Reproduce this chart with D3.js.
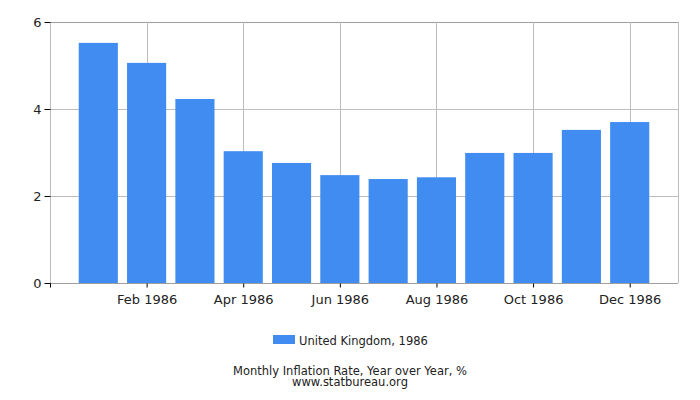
<!DOCTYPE html>
<html>
<head>
<style>
  body { margin: 0; background: #fff; font-family: "DejaVu Sans", sans-serif; }
  .grid line { stroke: #bdbdbd; stroke-width: 1px; }
</style>
</head>
<body>
<div id="chart"></div>
<script src="https://d3js.org/d3.v7.min.js"></script>
<script>
var months = ["Jan 1986", "Feb 1986", "Mar 1986", "Apr 1986", "May 1986", "Jun 1986",
              "Jul 1986", "Aug 1986", "Sep 1986", "Oct 1986", "Nov 1986", "Dec 1986"];
var values = [5.52, 5.06, 4.23, 3.03, 2.76, 2.48, 2.39, 2.43, 2.99, 2.99, 3.52, 3.70];
var yTicks = [0, 2, 4, 6];
var seriesName = "United Kingdom, 1986";
var title = "Monthly Inflation Rate, Year over Year, %";
var source = "www.statbureau.org";

var W = 700, H = 400;
var margin = { top: 22, left: 50, right: 22, bottom: 117 };
var width = W - margin.left - margin.right,
    height = H - margin.top - margin.bottom;

var svg = d3.select("#chart").append("svg")
    .attr("width", W)
    .attr("height", H);

var g = svg.append("g")
    .attr("transform", "translate(" + margin.left + "," + margin.top + ")");

// month slots: index 1..12, with an empty slot before Jan
var x = d3.scaleLinear().domain([0, 13]).range([0, width]);
var y = d3.scaleLinear().domain([0, 6]).range([height, 0]);
var step = x(1) - x(0);
var barW = step * 0.81;

// horizontal grid
g.append("g").attr("class", "grid")
  .selectAll("line").data(yTicks).enter().append("line")
    .attr("x1", 0).attr("x2", width)
    .attr("y1", function (d) { return Math.round(y(d)) + 0.5; })
    .attr("y2", function (d) { return Math.round(y(d)) + 0.5; })
    .style("stroke", function (d) { return d === 6 ? "#9e9e9e" : "#bdbdbd"; });

// vertical grid at every second month + edges
var xGrid = [0, 2, 4, 6, 8, 10, 12, 13];
g.append("g").attr("class", "grid")
  .selectAll("line").data(xGrid).enter().append("line")
    .attr("x1", function (d) { return Math.round(x(d)) + 0.5; })
    .attr("x2", function (d) { return Math.round(x(d)) + 0.5; })
    .attr("y1", 0).attr("y2", height);

// bars
g.selectAll("rect.bar").data(values).enter().append("rect")
    .attr("class", "bar")
    .attr("x", function (d, i) { return x(i + 1) - barW / 2; })
    .attr("width", barW)
    .attr("y", function (d) { return y(d); })
    .attr("height", function (d) { return height - y(d); })
    .style("fill", "#418cf0");

// x axis
var xAxis = d3.axisBottom(x)
    .tickValues([0, 2, 4, 6, 8, 10, 12])
    .tickSize(4)
    .tickPadding(7)
    .tickFormat(function (d) { return d === 0 ? "" : months[d - 1]; });

var xa = g.append("g")
    .attr("transform", "translate(0," + (Math.round(height) + 0.5) + ")")
    .call(xAxis);
xa.select(".domain").attr("d", "M0,0H" + width).style("stroke", "#9e9e9e");
xa.selectAll(".tick line").style("stroke", "#000");
xa.selectAll(".tick text")
    .style("font-family", "DejaVu Sans")
    .style("font-size", "13px")
    .style("fill", "#222");

// y axis
var yAxis = d3.axisLeft(y)
    .tickValues(yTicks)
    .tickSize(6)
    .tickPadding(3)
    .tickFormat(d3.format("d"));

var ya = g.append("g")
    .attr("transform", "translate(0.5,0)")
    .call(yAxis);
ya.select(".domain").remove();
ya.selectAll(".tick line").style("stroke", "#000");
ya.selectAll(".tick text")
    .style("font-family", "DejaVu Sans")
    .style("font-size", "13px")
    .style("fill", "#222");

// legend
var legend = svg.append("g").attr("transform", "translate(273,335)");
legend.append("rect")
    .attr("width", 22).attr("height", 9)
    .style("fill", "#418cf0");
legend.append("text")
    .attr("x", 26).attr("y", 10)
    .style("font-size", "11.5px")
    .style("fill", "#222")
    .text(seriesName);

// titles
svg.append("text")
    .attr("x", W / 2).attr("y", 375)
    .attr("text-anchor", "middle")
    .style("font-size", "11.5px")
    .style("fill", "#222")
    .text(title);
svg.append("text")
    .attr("x", W / 2).attr("y", 386)
    .attr("text-anchor", "middle")
    .style("font-size", "11.5px")
    .style("fill", "#222")
    .text(source);
</script>
</body>
</html>
